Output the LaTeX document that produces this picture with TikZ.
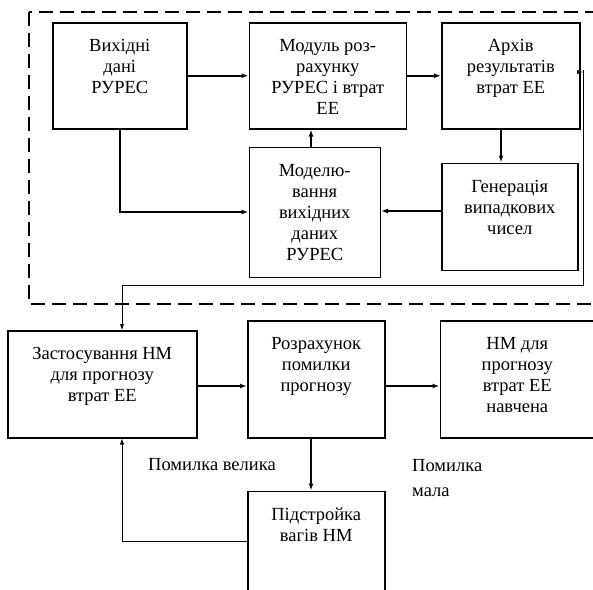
\documentclass[tikz,border=0pt]{standalone}
\usepackage{fontspec}
\setmainfont{Liberation Serif}
\usetikzlibrary{positioning,arrows.meta}

\tikzset{
  blk/.style={draw, line width=1.5pt, inner sep=0pt, font=\fontsize{18.5}{21}\selectfont},
  arr/.style={line width=1.8pt, -{Latex[length=7pt,width=5pt]}},
  thinarr/.style={line width=0.9pt, -{Latex[length=6pt,width=4.5pt]}},
  frame/.style={line width=1.6pt, dash pattern=on 14pt off 7pt},
  lbl/.style={inner sep=0pt, font=\fontsize{18.5}{21}\selectfont}
}
% box text: width, height, lines
\newcommand{\btxt}[3]{\parbox[c][#2][t]{#1}{\centering\rule{0pt}{29pt}#3}}

\begin{document}
\begin{tikzpicture}[x=1pt,y=-1pt]
	\clip (0,0) rectangle (593,589);
	\draw[frame] (29,12) rectangle (610,304);
	\node[blk, anchor=north west] (src) at (52,22) {\btxt{134pt}{106pt}{Вихідні\\дані\\РУРЕС}};
	\node[blk] (mod) [right = 61pt of src] {\btxt{157pt}{106pt}{Модуль роз-\\рахунку\\РУРЕС і втрат\\ЕЕ}};
	\node[blk] (arch) [right = 34pt of mod] {\btxt{138pt}{106pt}{Архів\\результатів\\втрат ЕЕ}};
	\node[blk] (sim) [below right = 17pt and 0pt of mod.south west] {\btxt{131pt}{130pt}{Моделю-\\вання\\вихідних\\даних\\РУРЕС}};
	\node[blk] (gen) [below right = 33pt and 0pt of arch.south west] {\btxt{136pt}{107pt}{Генерація\\випадкових\\чисел}};
	\node[blk, anchor=north west] (apply) at (7,330) {\btxt{189pt}{107pt}{Застосування НМ\\для прогнозу\\втрат ЕЕ}};
	\node[blk, anchor=north west] (calc) at (247,320) {\btxt{137pt}{117pt}{Розрахунок\\помилки\\прогнозу}};
	\node[blk] (nm) [right = 54pt of calc] {\btxt{154pt}{117pt}{НМ для\\прогнозу\\втрат ЕЕ\\навчена}};
	\node[blk] (tune) [below right = 52pt and 0pt of calc.south west] {\btxt{137pt}{120pt}{Підстройка\\вагів НМ}};
	\node[lbl, anchor=west] (big) at (148,465) {Помилка велика};
	\node[lbl, anchor=north west, align=left] (small) at (412,459) {Помилка\\[4pt]мала};
	\coordinate (rt) at (583,72);
	\coordinate (rb) at (583,285);
	\coordinate (lt) at (122,285);
	\path[arr] (src) edge (mod);
	\path[arr] (mod) edge (arch);
	\draw[arr] (src.south) |- (sim.west |- 0,212);
	\draw[arr] (sim.north -| 311,0) -- (mod.south -| 311,0);
	\draw[arr] (arch.south -| 501,0) -- (gen.north -| 501,0);
	\draw[arr] (gen.west |- 0,211) -- (sim.east |- 0,211);
	\draw[thinarr] (arch.east |- rt) -- (rt);
	\draw[thinarr] ([yshift=2pt]rt) -- (rb) -- (lt) -- (apply.north -| lt);
	\draw[arr] (apply.east |- 0,386) -- (calc.west |- 0,386);
	\draw[arr] (calc.east |- 0,386) -- (nm.west |- 0,386);
	\draw[arr] (calc.south -| 311,0) -- (tune.north -| 311,0);
	\draw[thinarr] (tune.west |- 0,541) -| (apply.south -| lt);
\end{tikzpicture}
\end{document}
